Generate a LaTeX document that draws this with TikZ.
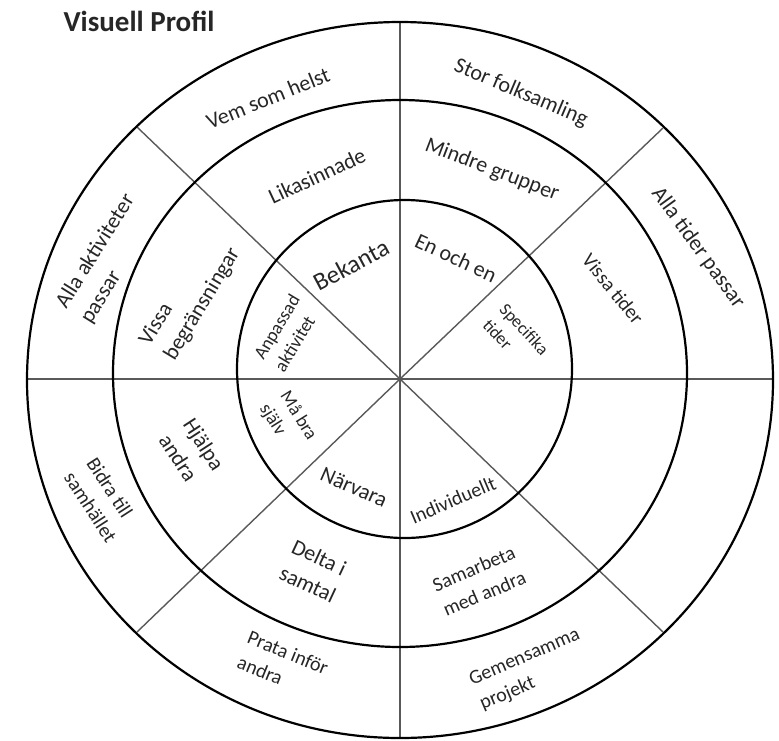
\documentclass[tikz,border=0pt]{standalone}
\usepackage{fontspec}
\setmainfont{Carlito}
\usepackage{tikz}

\tikzset{
  ring/.style={draw=black,line width=2.2pt},
  spoke/.style={draw=black!65,line width=1.4pt},
  lbl/.style={font=\fontsize{22}{29}\selectfont,text=black!85,align=left,inner sep=0pt},
  lblsm/.style={lbl,font=\fontsize{20}{27}\selectfont},
  lblxs/.style={lbl,font=\fontsize{18.5}{24}\selectfont},
}

\begin{document}
\begin{tikzpicture}[x=1pt,y=-1pt]
\useasboundingbox (0,0) rectangle (779,740);

% spokes
\coordinate (C) at (400,379);
\coordinate (N) at (400,22);
\coordinate (S) at (400,738);
\coordinate (W) at (27,379);
\coordinate (E) at (773,379);
\coordinate (NW) at (137,127);
\coordinate (NE) at (663,128);
\coordinate (SW) at (137,632);
\coordinate (SE) at (663,632);
\draw[spoke] (N) -- (S);
\draw[spoke] (W) -- (E);
\draw[spoke] (C) -- (NW);
\draw[spoke] (C) -- (NE);
\draw[spoke] (C) -- (SW);
\draw[spoke] (C) -- (SE);

% rings
\draw[ring] (400,380) ellipse [x radius=373pt,y radius=358pt];
\draw[ring] (400,373.5) ellipse [x radius=287pt,y radius=273.5pt];
\draw[ring] (404.5,369) ellipse [x radius=167.5pt,y radius=169pt];

\node (title) at (139,21)[font=\bfseries\fontsize{29}{32}\selectfont,text=black!85] {Visuell Profil};

% outer ring
\node (vem) at (268,98)[lbl,rotate=22] {Vem som helst};
\node (stor) at (521,93)[lbl,rotate=-23] {Stor folksamling};
\node (allatid) at (698,248)[lbl,rotate=-54] {Alla tider passar};
\node (allaakt) at (108,259)[lbl,rotate=58] {Alla aktiviteter\\passar};
\node (bidra) at (102,500)[lblsm,rotate=-57] {Bidra till\\samhället};
\node (prata) at (283,665)[lblsm,rotate=-22] {Prata inför\\andra};
\node (gemen) at (530,670)[lblsm,rotate=23] {Gemensamma\\projekt};

% middle ring
\node (lika) at (317,176)[lbl,rotate=25] {Likasinnade};
\node (mindre) at (492,170)[lbl,rotate=-21] {Mindre grupper};
\node (vissatid) at (613,289)[lblsm,rotate=-51] {Vissa tider};
\node (vissabeg) at (190,297)[lbl,rotate=59] {Vissa\\begränsningar};
\node (hjalpa) at (192,452)[lbl,rotate=-57] {Hjälpa\\andra};
\node (delta) at (314,571)[lbl,rotate=-25] {Delta i\\samtal};
\node (samarb) at (479,581)[lblsm,rotate=23] {Samarbeta\\med andra};

% inner ring
\node (bekanta) at (351,265)[lbl,font=\fontsize{25}{29}\selectfont,rotate=28] {Bekanta};
\node (enoch) at (456,258)[lbl,rotate=-25] {En och en};
\node (spec) at (516,337)[lblxs,font=\fontsize{17.5}{23}\selectfont,rotate=-47] {Specifika\\tider};
\node (anpass) at (287,333)[lblxs,rotate=59] {Anpassad\\aktivitet};
\node (mabra) at (288,422)[lblxs,rotate=-58] {Må bra\\själv};
\node (narvara) at (354,487)[lbl,rotate=-24] {Närvara};
\node (indiv) at (453,500)[lblsm,rotate=23] {Individuellt};
\end{tikzpicture}
\end{document}
